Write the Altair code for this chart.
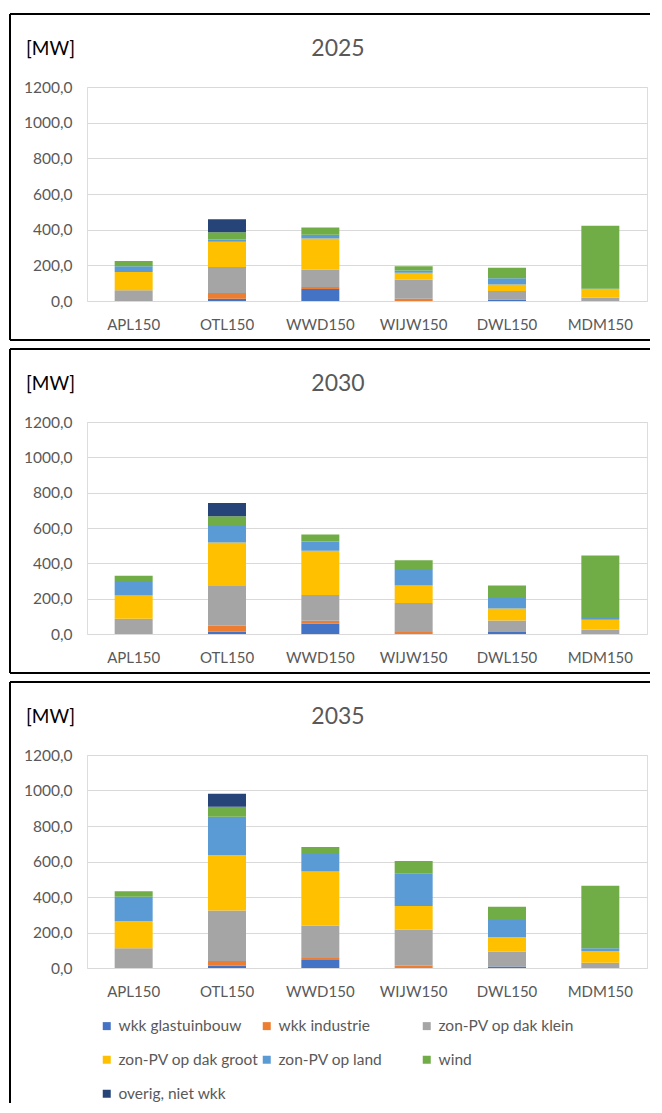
import altair as alt
import pandas as pd

categories = ["APL150", "OTL150", "WWD150", "WIJW150", "DWL150", "MDM150"]
series = ["wkk glastuinbouw", "wkk industrie", "zon-PV op dak klein",
          "zon-PV op dak groot", "zon-PV op land", "wind", "overig, niet wkk"]
colors = ["#4472C4", "#ED7D31", "#A5A5A5", "#FFC000", "#5B9BD5", "#70AD47", "#264478"]
y_ticks = [0, 200, 400, 600, 800, 1000, 1200]

v2025 = [
    [0, 12, 67, 0, 8, 0],
    [0, 33, 12, 13, 0, 0],
    [60, 146, 97, 107, 48, 19],
    [103, 141, 175, 39, 36, 47],
    [32, 13, 20, 12, 36, 3],
    [30, 41, 41, 24, 58, 353],
    [0, 73, 0, 0, 0, 0],
]
v2030 = [
    [0, 13, 60, 0, 11, 0],
    [0, 34, 15, 11, 0, 0],
    [86, 225, 146, 165, 66, 24],
    [132, 246, 250, 98, 67, 57],
    [82, 99, 52, 88, 60, 9],
    [30, 49, 40, 56, 70, 354],
    [0, 75, 0, 0, 0, 0],
]
v2035 = [
    [0, 13, 45, 0, 9, 0],
    [0, 27, 12, 13, 0, 0],
    [111, 284, 182, 204, 83, 30],
    [153, 311, 304, 133, 81, 66],
    [137, 217, 99, 181, 98, 15],
    [32, 56, 40, 72, 74, 352],
    [0, 74, 0, 0, 0, 0],
]
years = ["2025", "2030", "2035"]
year_values = [v2025, v2030, v2035]

FONT = "Lato"
W = 560
heights = [214, 212, 213]
RIGHT = 563
LEFT = -77
TOP = -73


def make_df(vals):
    rows = []
    for si, s in enumerate(series):
        for ci, c in enumerate(categories):
            rows.append({"station": c, "serie": s, "idx": si, "value": vals[si][ci]})
    return pd.DataFrame(rows)


one = pd.DataFrame({"k": [0]})


def panel(year, vals, h, last):
    df = make_df(vals)
    legend = None
    if last:
        legend = alt.Legend(
            title=None, orient="none", legendX=12, legendY=263, columns=3,
            direction="horizontal", gridAlign="all", columnPadding=0, rowPadding=17,
            symbolType="square", symbolSize=64, symbolStrokeWidth=0,
            labelFontSize=15.5, labelColor="#595959", labelFont=FONT, padding=0,
            labelOffset=4, labelLimit=300,
        )
    bars = alt.Chart(df).mark_bar(stroke=None).encode(
        x=alt.X("station:N", sort=categories, title=None,
                scale=alt.Scale(paddingInner=0.593, paddingOuter=0.2965),
                axis=alt.Axis(labelAngle=0, domain=False, ticks=False, labelPadding=16,
                              labelFontSize=15, labelColor="#595959", labelFont=FONT)),
        y=alt.Y("value:Q", stack="zero", title=None,
                scale=alt.Scale(domain=[0, 1200], nice=False),
                axis=alt.Axis(values=y_ticks, domain=False, ticks=False, labelPadding=15,
                              labelFontSize=15.5, labelColor="#595959", labelFont=FONT,
                              gridColor="#D9D9D9", gridWidth=1,
                              labelExpr="replace(format(datum.value, '.1f'), '.', ',')")),
        color=alt.Color("serie:N", scale=alt.Scale(domain=series, range=colors), legend=legend),
        order=alt.Order("idx:Q", sort="ascending"),
    )
    title = alt.Chart(one).mark_text(
        text=year, font=FONT, fontSize=23, color="#595959", align="center", baseline="alphabetic"
    ).encode(x=alt.value(251), y=alt.value(-31))
    unit = alt.Chart(one).mark_text(
        text="[MW]", font=FONT, fontSize=19, color="#000000", align="left", baseline="alphabetic"
    ).encode(x=alt.value(-61), y=alt.value(-32))
    bottom = h + 39 if not last else 348
    top_rule = alt.Chart(one).mark_rule(color="black", strokeWidth=2).encode(
        x=alt.value(LEFT), x2=alt.value(RIGHT), y=alt.value(TOP))
    left_rule = alt.Chart(one).mark_rule(color="black", strokeWidth=2).encode(
        x=alt.value(LEFT), y=alt.value(TOP), y2=alt.value(bottom))
    layers = [bars, title, unit, top_rule, left_rule]
    if not last:
        bottom_rule = alt.Chart(one).mark_rule(color="black", strokeWidth=2).encode(
            x=alt.value(LEFT), x2=alt.value(RIGHT), y=alt.value(bottom))
        layers.append(bottom_rule)
    return alt.layer(*layers).properties(width=W, height=h)


panels = [panel(y, v, h, i == 2) for i, (y, v, h) in enumerate(zip(years, year_values, heights))]

chart = alt.vconcat(*panels, spacing=121, bounds="flush").resolve_scale(
    color="independent", x="independent", y="independent"
).resolve_legend(color="independent").properties(
    padding={"top": 4, "left": 0, "right": 0, "bottom": 0}
).configure_view(stroke=None).configure(font=FONT)

chart.save("out.html", embed_options={"renderer": "svg", "actions": False})
